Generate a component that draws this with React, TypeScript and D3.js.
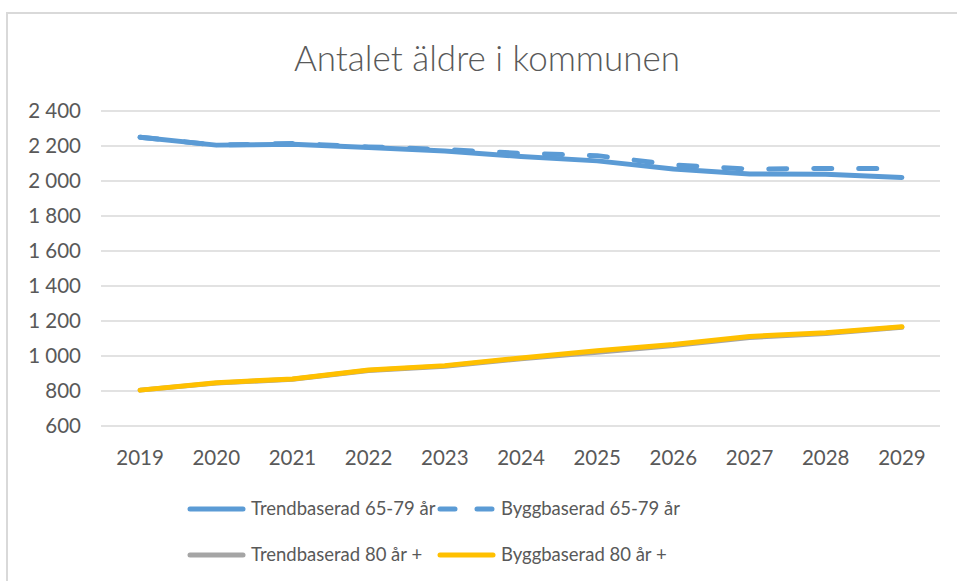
import React from "react";
import * as d3 from "d3";

const years = ["2019", "2020", "2021", "2022", "2023", "2024", "2025", "2026", "2027", "2028", "2029"];
const trend6579 = [2250, 2205, 2210, 2192, 2172, 2140, 2115, 2068, 2040, 2038, 2020];
const bygg6579 = [2250, 2205, 2215, 2195, 2180, 2158, 2145, 2092, 2068, 2072, 2072];
const trend80 = [805, 845, 867, 917, 942, 984, 1022, 1060, 1106, 1128, 1164];
const bygg80 = [805, 847, 869, 920, 945, 989, 1030, 1066, 1112, 1133, 1167];
const yTicks = [600, 800, 1000, 1200, 1400, 1600, 1800, 2000, 2200, 2400];

const series = [
  { name: "Trendbaserad 65-79 år", values: trend6579, color: "#5b9bd5", dash: null },
  { name: "Byggbaserad 65-79 år", values: bygg6579, color: "#5b9bd5", dash: "18 27" },
  { name: "Trendbaserad 80 år +", values: trend80, color: "#a5a5a5", dash: null },
  { name: "Byggbaserad 80 år +", values: bygg80, color: "#ffc000", dash: null },
];

const W = 957;
const H = 581;
const font = "Lato, 'Noto Sans', sans-serif";
const textColor = "#595959";

export default function App() {
  const x = d3.scalePoint<string>().domain(years).range([102, 940]).padding(0.5);
  const y = d3.scaleLinear().domain([600, 2400]).range([426, 111]);
  const line = d3
    .line<number>()
    .x((_, i) => x(years[i]) as number)
    .y((d) => y(d));

  // legend grid: two columns, two rows
  const legendCols = [188, 438];
  const legendRows = [509, 555];

  // "2 400" with a space as thousand separator
  const fmt = (v: number) => d3.format(",")(v).replace(",", " ");

  return (
    <div style={{ position: "fixed", left: 0, top: 0 }}>
      <svg width={W} height={H} style={{ display: "block", background: "#fff" }}>
        <rect x={7} y={13} width={W + 10} height={H} fill="#fff" stroke="#d9d9d9" strokeWidth={2} />
        <text
          x={487}
          y={71}
          textAnchor="middle"
          fontFamily={font}
          fontWeight={300}
          fontSize={35}
          fill={textColor}
        >
          Antalet äldre i kommunen
        </text>

        {yTicks.map((t) => (
          <g key={t}>
            <line x1={101} x2={940} y1={y(t)} y2={y(t)} stroke="#d9d9d9" strokeWidth={1.5} />
            <text x={81} y={y(t)} dy="0.35em" textAnchor="end" fontFamily={font} fontSize={20.5} fill={textColor}>
              {fmt(t)}
            </text>
          </g>
        ))}

        {years.map((yr) => (
          <text key={yr} x={x(yr)} y={465} textAnchor="middle" fontFamily={font} fontSize={20.5} fill={textColor}>
            {yr}
          </text>
        ))}

        {[series[2], series[3], series[0], series[1]].map((s) => (
          <path
            key={s.name}
            d={line(s.values) || ""}
            fill="none"
            stroke={s.color}
            strokeWidth={5}
            strokeLinecap="round"
            strokeLinejoin="round"
            strokeDasharray={s.dash || undefined}
          />
        ))}

        {series.map((s, i) => {
          const lx = legendCols[i % 2];
          const ly = legendRows[Math.floor(i / 2)];
          return (
            <g key={s.name}>
              <line
                x1={lx + 2}
                x2={lx + 55}
                y1={ly}
                y2={ly}
                stroke={s.color}
                strokeWidth={5}
                strokeLinecap="round"
                strokeDasharray={s.dash ? "15 22" : undefined}
              />
              <text x={lx + 63} y={ly} dy="0.35em" fontFamily={font} fontSize={18.5} fill={textColor}>
                {s.name}
              </text>
            </g>
          );
        })}
      </svg>
    </div>
  );
}
